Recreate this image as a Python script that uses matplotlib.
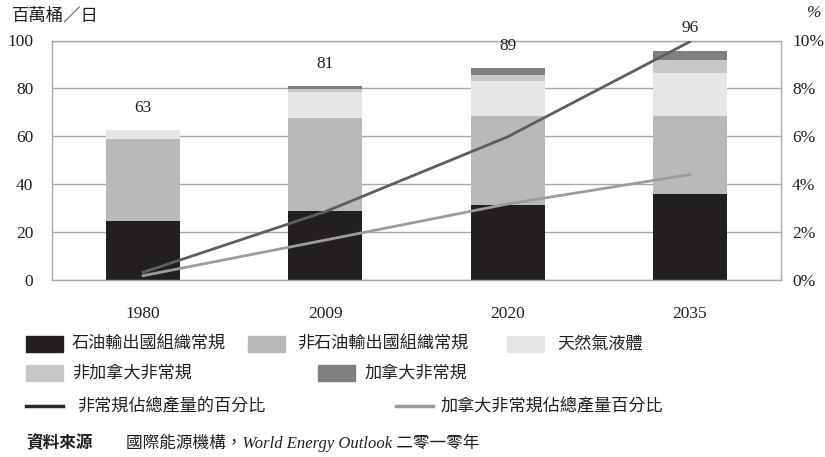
import numpy as np
import matplotlib
matplotlib.use("Agg")
import matplotlib.pyplot as plt
from matplotlib.patches import Rectangle
from matplotlib.lines import Line2D

# 資料 (百萬桶/日)
years = ['1980', '2009', '2020', '2035']
opec = [24.5, 28.5, 31.0, 35.8]
non_opec = [34.3, 39.0, 37.3, 32.5]
ngl = [3.8, 11.0, 14.7, 18.0]
non_canada_unconv = [0.0, 1.1, 2.4, 5.4]
canada_unconv = [0.0, 1.3, 3.0, 4.1]
totals = [63, 81, 89, 96]

# 百分比 (%)
unconv_share = [0.30, 2.84, 5.97, 9.95]
canada_share = [0.16, 1.65, 3.16, 4.39]

series_names = ['石油輸出國組織常規', '非石油輸出國組織常規', '天然氣液體',
                '非加拿大非常規', '加拿大非常規']
line_names = ['非常規佔總產量的百分比', '加拿大非常規佔總產量百分比']
colors = ['#231f20', '#b8b9bb', '#e5e6e7', '#c6c7c9', '#808083']
line_colors = ['#5e5e60', '#9c9c9e']

SERIF = ['Liberation Serif', 'Noto Sans CJK TC']
CJK = ['Noto Sans CJK TC', 'DejaVu Sans']
GRID = '#a7a9ac'

W, H = 825, 457
fig = plt.figure(figsize=(W / 100, H / 100), dpi=100)

def fx(x):
    return x / W

def fy(y):
    return 1 - y / H

ax = fig.add_axes([fx(52), fy(279.5), fx(781) - fx(52), fy(40.5) - fy(279.5)])
x = np.arange(len(years))
bw = 0.406
bottom = np.zeros(len(years))
for vals, c in zip([opec, non_opec, ngl, non_canada_unconv, canada_unconv], colors):
    ax.bar(x, vals, bw, bottom=bottom, color=c, zorder=2)
    bottom += np.array(vals)

for i, t in enumerate(totals):
    ax.annotate(str(t), (x[i], bottom[i]), xytext=(0, 16), textcoords='offset points',
                ha='center', va='center', fontsize=12.5, family=SERIF, color='#231f20')

ax.set_xlim(-0.5, len(years) - 0.5)
ax.set_ylim(0, 100)
ax.set_yticks(range(0, 101, 20))
ax.set_xticks(x)
ax.set_xticklabels(years)
ax.yaxis.grid(True, color=GRID, lw=1, zorder=0)
ax.set_axisbelow(True)
for s in ax.spines.values():
    s.set_color(GRID)
    s.set_linewidth(1)
ax.tick_params(axis='y', length=0, pad=13.5, labelsize=12.5, colors='#231f20')
ax.tick_params(axis='x', length=0, pad=19, labelsize=12.5, colors='#231f20')
for lab in ax.get_xticklabels() + ax.get_yticklabels():
    lab.set_family(SERIF)

ax2 = ax.twinx()
ax2.set_ylim(0, 10)
ax2.set_yticks(range(0, 11, 2))
ax2.set_yticklabels([f'{v}%' for v in range(0, 11, 2)])
ax2.plot(x, unconv_share, color=line_colors[0], lw=2, zorder=3)
ax2.plot(x, canada_share, color=line_colors[1], lw=2, zorder=3)
ax2.tick_params(axis='y', length=0, pad=8, labelsize=12.5, colors='#231f20')
for lab in ax2.get_yticklabels():
    lab.set_family(SERIF)
for s in ax2.spines.values():
    s.set_visible(False)

# 軸標題
fig.text(fx(12), fy(15), '百萬桶／日', fontsize=12.5, family=CJK, va='center', ha='left',
         color='#231f20')
fig.text(fx(822), fy(13), '%', fontsize=12.5, family=SERIF, style='italic',
         va='center', ha='right', color='#231f20')

# 圖例
patch_pos = [(26, 344, 72), (248, 344, 297), (507, 344, 557),
             (26, 373, 72), (318, 373, 364)]
for (px, py, tx), c, name in zip(patch_pos, colors, series_names):
    fig.add_artist(Rectangle((fx(px), fy(py + 8)), fx(37), 16 / H,
                             transform=fig.transFigure, color=c))
    fig.text(fx(tx), fy(py), name, fontsize=12.3, family=CJK, va='center', ha='left',
             color='#231f20')

legend_line_colors = ['#2b2a2b', '#9a9a9c']
line_pos = [(26, 406, 77), (396, 406, 440)]
for (px, py, tx), c, name in zip(line_pos, legend_line_colors, line_names):
    fig.add_artist(Line2D([fx(px), fx(px + 37)], [fy(py), fy(py)],
                          transform=fig.transFigure, color=c, lw=2.5))
    fig.text(fx(tx), fy(py), name, fontsize=12.3, family=CJK, va='center', ha='left',
             color='#231f20')

# 資料來源
fig.text(fx(26), fy(443), '資料來源', fontsize=12, family=CJK, weight='bold',
         va='center', ha='left', color='#231f20')
fig.text(fx(126), fy(443), '國際能源機構，World Energy Outlook 二零一零年', fontsize=12,
         family=SERIF, style='italic', va='center', ha='left', color='#231f20')

fig.savefig('out.png', dpi=100)
